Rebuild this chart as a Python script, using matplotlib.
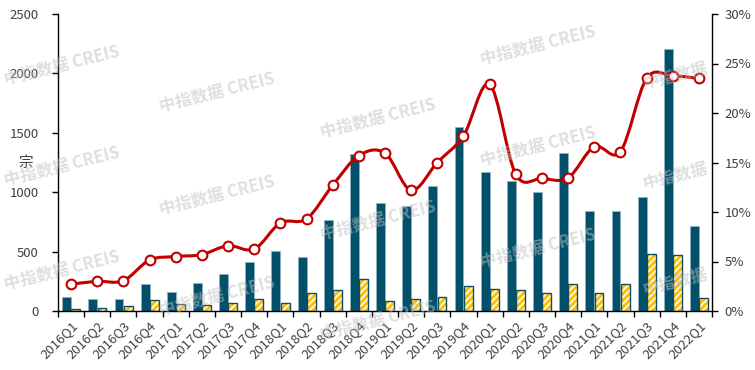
import numpy as np
import matplotlib.pyplot as plt
from matplotlib.path import Path
from matplotlib.patches import PathPatch
from matplotlib.ticker import PercentFormatter

plt.rcParams['font.family'] = ['Noto Sans CJK SC', 'DejaVu Sans']
plt.rcParams['hatch.linewidth'] = 1.2

quarters = ['2016Q1', '2016Q2', '2016Q3', '2016Q4', '2017Q1', '2017Q2', '2017Q3', '2017Q4',
            '2018Q1', '2018Q2', '2018Q3', '2018Q4', '2019Q1', '2019Q2', '2019Q3', '2019Q4',
            '2020Q1', '2020Q2', '2020Q3', '2020Q4', '2021Q1', '2021Q2', '2021Q3', '2021Q4',
            '2022Q1']
deals_total = [120, 100, 100, 227, 160, 236, 312, 413,
               505, 457, 769, 1322, 907, 881, 1050, 1552,
               1168, 1095, 1000, 1330, 839, 839, 957, 2206,
               718]
deals_part = [15, 25, 45, 95, 62, 50, 65, 98,
              67, 149, 180, 267, 84, 98, 118, 213,
              185, 180, 149, 225, 149, 225, 477, 471,
              107]
ratio = [2.7, 3.0, 3.06, 5.15, 5.5, 5.7, 6.6, 6.25,
         8.9, 9.3, 12.7, 15.7, 15.95, 12.2, 15.0, 17.7,
         22.9, 13.8, 13.4, 13.45, 16.6, 16.1, 23.5, 23.75,
         23.5]

# watermark centres in pixels (x, y from top), and whether CREIS part is visible
watermarks = [(62, 65, True), (62, 166, True), (62, 270, True),
              (217, 92, True), (217, 195, True), (217, 296, True),
              (378, 118, True), (378, 220, True), (378, 320, True),
              (538, 45, True), (538, 146, True), (538, 248, True),
              (675, 76, False), (675, 176, False), (675, 282, False)]


def smooth_path(x, y):
    # Catmull-Rom style bezier, like a smoothed excel line
    pts = np.column_stack([x, y]).astype(float)
    n = len(pts)
    verts = [pts[0]]
    codes = [Path.MOVETO]
    for i in range(n - 1):
        p0 = pts[max(i - 1, 0)]
        p1 = pts[i]
        p2 = pts[i + 1]
        p3 = pts[min(i + 2, n - 1)]
        verts += [p1 + (p2 - p0) / 6, p2 - (p3 - p1) / 6, p2]
        codes += [Path.CURVE4] * 3
    return Path(verts, codes)


W, H = 755, 370
fig = plt.figure(figsize=(W / 100, H / 100), dpi=100)
ax = fig.add_axes([58 / W, 1 - 311 / H, (712 - 58) / W, (311 - 14) / H])

x = np.arange(len(quarters))
dark = '#02506A'
gold = '#FFC000'

ax.bar(x - 0.17, deals_total, width=0.34, color=dark, edgecolor='#8FB4C4', linewidth=0.5, zorder=2)
ax.bar(x + 0.18, deals_part, width=0.34, color=gold, edgecolor='white', hatch='/////',
       linewidth=0, zorder=2)
ax.bar(x + 0.18, deals_part, width=0.34, fill=False, edgecolor='#0E4D64', linewidth=1.0, zorder=3)

ax.set_xlim(-0.5, len(quarters) - 0.5)
ax.set_ylim(0, 2500)
ax.set_yticks(range(0, 2501, 500))
ax.set_xticks(x)
ax.set_xticklabels(quarters, rotation=45, ha='right', va='top', rotation_mode='anchor')
ax.set_xticks(np.arange(-0.5, len(quarters), 1), minor=True)
ax.tick_params(axis='x', which='major', length=0, pad=6)
ax.tick_params(axis='x', which='minor', length=4, width=1, direction='out')
ax.tick_params(axis='y', length=4, width=1, direction='out', pad=10)
ax.tick_params(labelsize=9.5, labelcolor='#404040')
ax.spines['top'].set_visible(False)
ax.spines['right'].set_visible(False)
for s in ['left', 'bottom']:
    ax.spines[s].set_linewidth(1)
ax.text(-0.05, 0.5, '宗', transform=ax.transAxes, rotation=0, ha='center', va='center',
        fontsize=10.5, color='#404040')

ax2 = ax.twinx()
ax2.set_ylim(0, 30)
ax2.set_yticks(range(0, 31, 5))
ax2.yaxis.set_major_formatter(PercentFormatter(decimals=0))
ax2.tick_params(axis='y', length=4, width=1, direction='out', pad=5, labelsize=9.5, labelcolor='#404040')
for s in ['top', 'left', 'bottom']:
    ax2.spines[s].set_visible(False)
ax2.spines['right'].set_linewidth(1)

red = '#C00000'
ax2.add_patch(PathPatch(smooth_path(x, ratio), facecolor='none', edgecolor=red, linewidth=2.2,
                        zorder=4, capstyle='round'))
ax2.plot(x, ratio, linestyle='none', marker='o', markersize=7, markerfacecolor='white',
         markeredgecolor=red, markeredgewidth=1.5, zorder=5)

for px, py, full in watermarks:
    label = '中指数据 CREIS' if full else '中指数据'
    fig.text(px / W, 1 - py / H, label, rotation=14, ha='center', va='center',
             fontsize=12, fontweight='bold', color='#BFBFBF', alpha=0.5, zorder=10)

fig.savefig('out.png', dpi=100)
